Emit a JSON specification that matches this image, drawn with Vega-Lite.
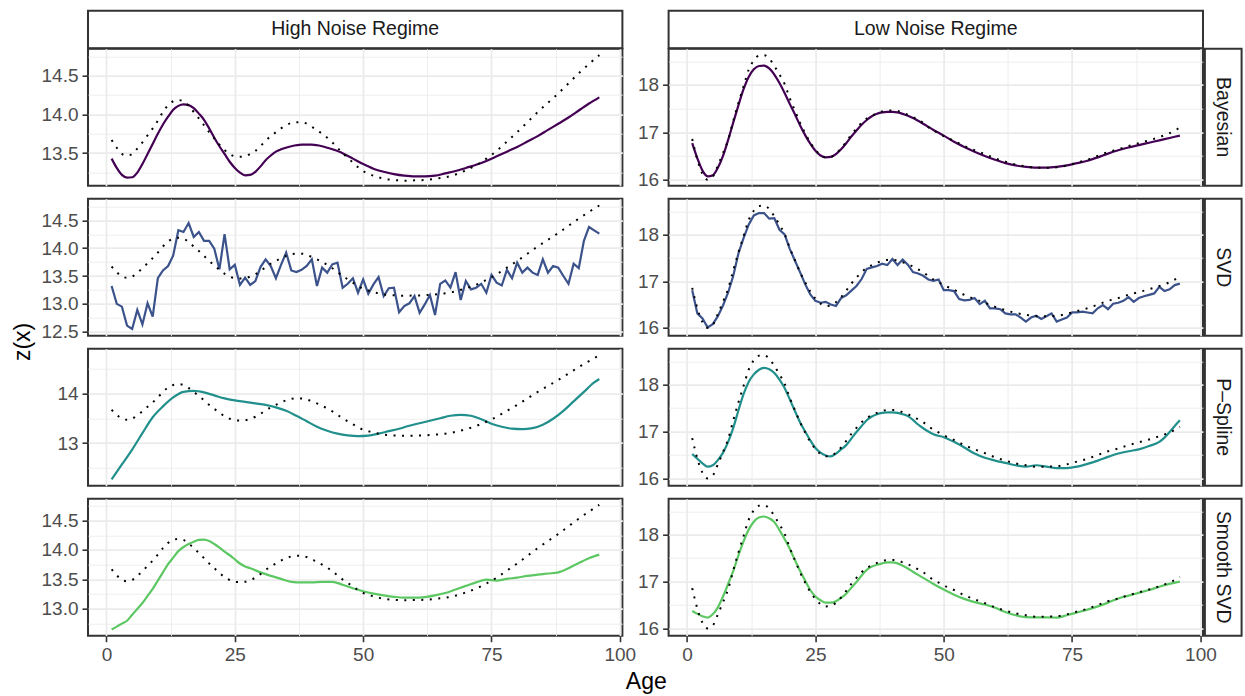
{
"$schema": "https://vega.github.io/schema/vega-lite/v6.json",
"padding": {"left": 10, "top": 9.7, "right": 3, "bottom": 4},
"config": {
  "font": "Liberation Sans",
  "view": {"stroke": "#333333", "strokeWidth": 2},
  "axis": {"grid": true, "gridColor": "#EBEBEB", "domain": false, "tickSize": 6, "tickWidth": 1.6, "labelFontSize": 19, "labelColor": "#4D4D4D", "labelPadding": 4, "labelOverlap": false, "labelFlush": false, "titleFontSize": 23, "titleFontWeight": "normal", "titleColor": "#000000"}
},
"datasets": {
  "empty": [],
  "truthHigh": [{"age":1,"z":13.67},{"age":2,"z":13.57},{"age":3,"z":13.49},{"age":4,"z":13.47},{"age":5,"z":13.49},{"age":6,"z":13.56},{"age":7,"z":13.64},{"age":8,"z":13.73},{"age":9,"z":13.82},{"age":10,"z":13.92},{"age":11,"z":14.03},{"age":12,"z":14.12},{"age":13,"z":14.17},{"age":14,"z":14.185},{"age":15,"z":14.17},{"age":16,"z":14.11},{"age":17,"z":14.03},{"age":18,"z":13.95},{"age":19,"z":13.86},{"age":20,"z":13.77},{"age":21,"z":13.69},{"age":22,"z":13.61},{"age":23,"z":13.54},{"age":24,"z":13.49},{"age":25,"z":13.46},{"age":26,"z":13.455},{"age":27,"z":13.46},{"age":28,"z":13.49},{"age":29,"z":13.53},{"age":30,"z":13.59},{"age":31,"z":13.66},{"age":32,"z":13.72},{"age":33,"z":13.77},{"age":34,"z":13.82},{"age":35,"z":13.86},{"age":36,"z":13.89},{"age":37,"z":13.9},{"age":38,"z":13.9},{"age":39,"z":13.88},{"age":40,"z":13.84},{"age":41,"z":13.8},{"age":42,"z":13.75},{"age":43,"z":13.7},{"age":44,"z":13.64},{"age":45,"z":13.57},{"age":46,"z":13.5},{"age":47,"z":13.44},{"age":48,"z":13.38},{"age":49,"z":13.32},{"age":50,"z":13.27},{"age":51,"z":13.24},{"age":52,"z":13.21},{"age":53,"z":13.19},{"age":54,"z":13.17},{"age":56,"z":13.155},{"age":58,"z":13.146},{"age":60,"z":13.15},{"age":62,"z":13.155},{"age":64,"z":13.17},{"age":66,"z":13.19},{"age":68,"z":13.225},{"age":70,"z":13.28},{"age":72,"z":13.345},{"age":74,"z":13.43},{"age":76,"z":13.53},{"age":78,"z":13.65},{"age":80,"z":13.77},{"age":82,"z":13.9},{"age":84,"z":14.03},{"age":86,"z":14.15},{"age":88,"z":14.27},{"age":90,"z":14.4},{"age":92,"z":14.53},{"age":94,"z":14.65},{"age":96,"z":14.765}],
  "truthLow": [{"age":1,"z":16.86},{"age":2,"z":16.42},{"age":3,"z":16.12},{"age":4,"z":16.0},{"age":5,"z":16.06},{"age":6,"z":16.3},{"age":7,"z":16.56},{"age":8,"z":16.84},{"age":9,"z":17.24},{"age":10,"z":17.62},{"age":11,"z":17.97},{"age":12,"z":18.32},{"age":13,"z":18.52},{"age":14,"z":18.62},{"age":15,"z":18.63},{"age":16,"z":18.56},{"age":17,"z":18.4},{"age":18,"z":18.22},{"age":19,"z":18.02},{"age":20,"z":17.72},{"age":21,"z":17.46},{"age":22,"z":17.2},{"age":23,"z":16.98},{"age":24,"z":16.78},{"age":25,"z":16.63},{"age":26,"z":16.52},{"age":27,"z":16.47},{"age":28,"z":16.48},{"age":29,"z":16.55},{"age":30,"z":16.66},{"age":31,"z":16.8},{"age":32,"z":16.95},{"age":33,"z":17.08},{"age":34,"z":17.2},{"age":35,"z":17.29},{"age":36,"z":17.35},{"age":37,"z":17.4},{"age":38,"z":17.44},{"age":39,"z":17.46},{"age":40,"z":17.46},{"age":41,"z":17.45},{"age":42,"z":17.41},{"age":43,"z":17.37},{"age":44,"z":17.32},{"age":45,"z":17.26},{"age":46,"z":17.2},{"age":47,"z":17.11},{"age":48,"z":17.04},{"age":49,"z":16.98},{"age":50,"z":16.92},{"age":52,"z":16.82},{"age":54,"z":16.71},{"age":56,"z":16.62},{"age":58,"z":16.54},{"age":60,"z":16.45},{"age":62,"z":16.38},{"age":64,"z":16.32},{"age":66,"z":16.28},{"age":68,"z":16.25},{"age":70,"z":16.25},{"age":72,"z":16.26},{"age":74,"z":16.3},{"age":76,"z":16.36},{"age":78,"z":16.42},{"age":80,"z":16.5},{"age":82,"z":16.58},{"age":84,"z":16.64},{"age":86,"z":16.71},{"age":88,"z":16.77},{"age":90,"z":16.83},{"age":92,"z":16.9},{"age":94,"z":16.98},{"age":96,"z":17.1}],
  "bayesHigh": [{"age":1,"z":13.43},{"age":2,"z":13.31},{"age":3,"z":13.22},{"age":4,"z":13.185},{"age":5,"z":13.19},{"age":6,"z":13.25},{"age":7,"z":13.36},{"age":8,"z":13.49},{"age":9,"z":13.62},{"age":10,"z":13.75},{"age":11,"z":13.87},{"age":12,"z":13.97},{"age":13,"z":14.06},{"age":14,"z":14.11},{"age":15,"z":14.13},{"age":16,"z":14.12},{"age":17,"z":14.08},{"age":18,"z":14.01},{"age":19,"z":13.93},{"age":20,"z":13.82},{"age":21,"z":13.7},{"age":22,"z":13.59},{"age":23,"z":13.49},{"age":24,"z":13.39},{"age":25,"z":13.31},{"age":26,"z":13.25},{"age":27,"z":13.215},{"age":28,"z":13.22},{"age":29,"z":13.26},{"age":30,"z":13.33},{"age":31,"z":13.41},{"age":32,"z":13.47},{"age":33,"z":13.52},{"age":34,"z":13.55},{"age":36,"z":13.59},{"age":38,"z":13.61},{"age":40,"z":13.61},{"age":42,"z":13.59},{"age":44,"z":13.55},{"age":46,"z":13.5},{"age":48,"z":13.43},{"age":50,"z":13.36},{"age":52,"z":13.3},{"age":54,"z":13.26},{"age":56,"z":13.23},{"age":58,"z":13.21},{"age":60,"z":13.2},{"age":62,"z":13.2},{"age":64,"z":13.21},{"age":66,"z":13.24},{"age":68,"z":13.27},{"age":70,"z":13.31},{"age":72,"z":13.35},{"age":74,"z":13.4},{"age":76,"z":13.46},{"age":78,"z":13.52},{"age":80,"z":13.58},{"age":82,"z":13.65},{"age":84,"z":13.72},{"age":86,"z":13.8},{"age":88,"z":13.88},{"age":90,"z":13.96},{"age":92,"z":14.05},{"age":94,"z":14.14},{"age":96,"z":14.22}],
  "bayesLow": [{"age":1,"z":16.77},{"age":2,"z":16.45},{"age":3,"z":16.19},{"age":4,"z":16.07},{"age":5,"z":16.09},{"age":6,"z":16.25},{"age":7,"z":16.5},{"age":8,"z":16.84},{"age":9,"z":17.21},{"age":10,"z":17.57},{"age":11,"z":17.91},{"age":12,"z":18.17},{"age":13,"z":18.33},{"age":14,"z":18.4},{"age":15,"z":18.41},{"age":16,"z":18.35},{"age":17,"z":18.22},{"age":18,"z":18.04},{"age":19,"z":17.83},{"age":20,"z":17.6},{"age":21,"z":17.38},{"age":22,"z":17.15},{"age":23,"z":16.94},{"age":24,"z":16.76},{"age":25,"z":16.61},{"age":26,"z":16.51},{"age":27,"z":16.47},{"age":28,"z":16.48},{"age":29,"z":16.54},{"age":30,"z":16.64},{"age":31,"z":16.77},{"age":32,"z":16.91},{"age":33,"z":17.04},{"age":34,"z":17.16},{"age":35,"z":17.26},{"age":36,"z":17.34},{"age":37,"z":17.39},{"age":38,"z":17.42},{"age":39,"z":17.43},{"age":40,"z":17.43},{"age":41,"z":17.42},{"age":42,"z":17.39},{"age":43,"z":17.35},{"age":44,"z":17.3},{"age":46,"z":17.18},{"age":48,"z":17.05},{"age":50,"z":16.93},{"age":52,"z":16.8},{"age":54,"z":16.69},{"age":56,"z":16.59},{"age":58,"z":16.5},{"age":60,"z":16.42},{"age":62,"z":16.35},{"age":64,"z":16.3},{"age":66,"z":16.27},{"age":68,"z":16.255},{"age":70,"z":16.255},{"age":72,"z":16.27},{"age":74,"z":16.3},{"age":76,"z":16.35},{"age":78,"z":16.4},{"age":80,"z":16.47},{"age":82,"z":16.55},{"age":84,"z":16.62},{"age":86,"z":16.68},{"age":88,"z":16.73},{"age":90,"z":16.78},{"age":92,"z":16.83},{"age":94,"z":16.88},{"age":96,"z":16.93}],
  "svdHigh": [{"age":1,"z":13.32},{"age":2,"z":13.0},{"age":3,"z":12.95},{"age":4,"z":12.61},{"age":5,"z":12.55},{"age":6,"z":12.89},{"age":7,"z":12.63},{"age":8,"z":13.01},{"age":9,"z":12.77},{"age":10,"z":13.46},{"age":11,"z":13.6},{"age":12,"z":13.68},{"age":13,"z":13.87},{"age":14,"z":14.32},{"age":15,"z":14.29},{"age":16,"z":14.45},{"age":17,"z":14.2},{"age":18,"z":14.29},{"age":19,"z":14.13},{"age":20,"z":14.13},{"age":21,"z":13.99},{"age":22,"z":13.62},{"age":23,"z":14.25},{"age":24,"z":13.62},{"age":25,"z":13.7},{"age":26,"z":13.34},{"age":27,"z":13.47},{"age":28,"z":13.34},{"age":29,"z":13.41},{"age":30,"z":13.66},{"age":31,"z":13.8},{"age":32,"z":13.68},{"age":33,"z":13.46},{"age":34,"z":13.7},{"age":35,"z":13.92},{"age":36,"z":13.6},{"age":37,"z":13.57},{"age":38,"z":13.61},{"age":39,"z":13.68},{"age":40,"z":13.8},{"age":41,"z":13.32},{"age":42,"z":13.65},{"age":43,"z":13.56},{"age":44,"z":13.71},{"age":45,"z":13.74},{"age":46,"z":13.29},{"age":47,"z":13.36},{"age":48,"z":13.46},{"age":49,"z":13.2},{"age":50,"z":13.44},{"age":51,"z":13.18},{"age":52,"z":13.35},{"age":53,"z":13.48},{"age":54,"z":13.14},{"age":55,"z":13.28},{"age":56,"z":13.29},{"age":57,"z":12.85},{"age":58,"z":12.96},{"age":59,"z":13.01},{"age":60,"z":13.14},{"age":61,"z":12.84},{"age":62,"z":12.99},{"age":63,"z":13.16},{"age":64,"z":12.8},{"age":65,"z":13.36},{"age":66,"z":13.42},{"age":67,"z":13.29},{"age":68,"z":13.57},{"age":69,"z":13.07},{"age":70,"z":13.41},{"age":71,"z":13.26},{"age":72,"z":13.29},{"age":73,"z":13.36},{"age":74,"z":13.2},{"age":75,"z":13.52},{"age":76,"z":13.38},{"age":77,"z":13.33},{"age":78,"z":13.61},{"age":79,"z":13.46},{"age":80,"z":13.74},{"age":81,"z":13.56},{"age":82,"z":13.65},{"age":83,"z":13.56},{"age":84,"z":13.52},{"age":85,"z":13.8},{"age":86,"z":13.56},{"age":87,"z":13.68},{"age":88,"z":13.65},{"age":89,"z":13.5},{"age":90,"z":13.36},{"age":91,"z":13.72},{"age":92,"z":13.64},{"age":93,"z":14.13},{"age":94,"z":14.38},{"age":95,"z":14.32},{"age":96,"z":14.26}],
  "svdLow": [{"age":1,"z":16.81},{"age":2,"z":16.31},{"age":3,"z":16.2},{"age":4,"z":16.01},{"age":5,"z":16.08},{"age":6,"z":16.25},{"age":7,"z":16.48},{"age":8,"z":16.76},{"age":9,"z":17.12},{"age":10,"z":17.6},{"age":11,"z":17.93},{"age":12,"z":18.22},{"age":13,"z":18.42},{"age":14,"z":18.47},{"age":15,"z":18.47},{"age":16,"z":18.35},{"age":17,"z":18.36},{"age":18,"z":18.11},{"age":19,"z":18.01},{"age":20,"z":17.7},{"age":21,"z":17.45},{"age":22,"z":17.2},{"age":23,"z":16.94},{"age":24,"z":16.72},{"age":25,"z":16.58},{"age":26,"z":16.54},{"age":27,"z":16.56},{"age":28,"z":16.5},{"age":29,"z":16.47},{"age":30,"z":16.64},{"age":31,"z":16.7},{"age":32,"z":16.8},{"age":33,"z":16.9},{"age":34,"z":17.05},{"age":35,"z":17.27},{"age":36,"z":17.3},{"age":37,"z":17.33},{"age":38,"z":17.38},{"age":39,"z":17.35},{"age":40,"z":17.48},{"age":41,"z":17.35},{"age":42,"z":17.47},{"age":43,"z":17.36},{"age":44,"z":17.2},{"age":45,"z":17.17},{"age":46,"z":17.12},{"age":47,"z":17.04},{"age":48,"z":17.01},{"age":49,"z":17.04},{"age":50,"z":16.81},{"age":51,"z":16.81},{"age":52,"z":16.79},{"age":53,"z":16.62},{"age":54,"z":16.59},{"age":55,"z":16.6},{"age":56,"z":16.64},{"age":57,"z":16.51},{"age":58,"z":16.58},{"age":59,"z":16.42},{"age":60,"z":16.42},{"age":61,"z":16.4},{"age":62,"z":16.31},{"age":63,"z":16.29},{"age":64,"z":16.29},{"age":65,"z":16.22},{"age":66,"z":16.135},{"age":67,"z":16.22},{"age":68,"z":16.26},{"age":69,"z":16.19},{"age":70,"z":16.25},{"age":71,"z":16.31},{"age":72,"z":16.135},{"age":73,"z":16.18},{"age":74,"z":16.22},{"age":75,"z":16.33},{"age":76,"z":16.33},{"age":77,"z":16.35},{"age":78,"z":16.33},{"age":79,"z":16.31},{"age":80,"z":16.42},{"age":81,"z":16.49},{"age":82,"z":16.4},{"age":83,"z":16.52},{"age":84,"z":16.54},{"age":85,"z":16.58},{"age":86,"z":16.66},{"age":87,"z":16.56},{"age":88,"z":16.64},{"age":89,"z":16.68},{"age":90,"z":16.71},{"age":91,"z":16.74},{"age":92,"z":16.88},{"age":93,"z":16.79},{"age":94,"z":16.83},{"age":95,"z":16.92},{"age":96,"z":16.95}],
  "psHigh": [{"age":1,"z":12.27},{"age":3,"z":12.57},{"age":5,"z":12.87},{"age":7,"z":13.2},{"age":9,"z":13.52},{"age":11,"z":13.74},{"age":13,"z":13.92},{"age":15,"z":14.03},{"age":17,"z":14.05},{"age":19,"z":14.02},{"age":21,"z":13.96},{"age":23,"z":13.9},{"age":25,"z":13.86},{"age":27,"z":13.83},{"age":29,"z":13.8},{"age":31,"z":13.77},{"age":33,"z":13.72},{"age":35,"z":13.65},{"age":37,"z":13.55},{"age":39,"z":13.44},{"age":41,"z":13.33},{"age":43,"z":13.25},{"age":45,"z":13.19},{"age":47,"z":13.155},{"age":49,"z":13.14},{"age":51,"z":13.15},{"age":53,"z":13.19},{"age":55,"z":13.24},{"age":57,"z":13.29},{"age":59,"z":13.35},{"age":61,"z":13.4},{"age":63,"z":13.45},{"age":65,"z":13.5},{"age":67,"z":13.55},{"age":69,"z":13.57},{"age":71,"z":13.55},{"age":73,"z":13.48},{"age":75,"z":13.39},{"age":77,"z":13.33},{"age":79,"z":13.29},{"age":81,"z":13.28},{"age":83,"z":13.3},{"age":85,"z":13.37},{"age":87,"z":13.49},{"age":89,"z":13.65},{"age":91,"z":13.84},{"age":93,"z":14.03},{"age":95,"z":14.22},{"age":96,"z":14.29}],
  "psLow": [{"age":1,"z":16.52},{"age":2,"z":16.42},{"age":3,"z":16.32},{"age":4,"z":16.25},{"age":5,"z":16.28},{"age":6,"z":16.39},{"age":7,"z":16.55},{"age":8,"z":16.78},{"age":9,"z":17.08},{"age":10,"z":17.45},{"age":11,"z":17.8},{"age":12,"z":18.06},{"age":13,"z":18.22},{"age":14,"z":18.32},{"age":15,"z":18.36},{"age":16,"z":18.33},{"age":17,"z":18.25},{"age":18,"z":18.11},{"age":19,"z":17.93},{"age":20,"z":17.69},{"age":21,"z":17.44},{"age":22,"z":17.2},{"age":23,"z":17.0},{"age":24,"z":16.81},{"age":25,"z":16.65},{"age":26,"z":16.55},{"age":27,"z":16.49},{"age":28,"z":16.47},{"age":29,"z":16.53},{"age":30,"z":16.62},{"age":31,"z":16.71},{"age":32,"z":16.85},{"age":33,"z":16.99},{"age":34,"z":17.12},{"age":35,"z":17.24},{"age":36,"z":17.32},{"age":37,"z":17.37},{"age":38,"z":17.4},{"age":39,"z":17.41},{"age":40,"z":17.41},{"age":41,"z":17.4},{"age":42,"z":17.37},{"age":43,"z":17.33},{"age":44,"z":17.25},{"age":45,"z":17.15},{"age":46,"z":17.07},{"age":47,"z":17.0},{"age":48,"z":16.94},{"age":50,"z":16.88},{"age":52,"z":16.78},{"age":54,"z":16.66},{"age":56,"z":16.53},{"age":58,"z":16.44},{"age":60,"z":16.38},{"age":62,"z":16.33},{"age":64,"z":16.28},{"age":66,"z":16.25},{"age":68,"z":16.28},{"age":70,"z":16.25},{"age":72,"z":16.22},{"age":74,"z":16.22},{"age":76,"z":16.25},{"age":78,"z":16.31},{"age":80,"z":16.38},{"age":82,"z":16.46},{"age":84,"z":16.53},{"age":86,"z":16.58},{"age":88,"z":16.62},{"age":90,"z":16.69},{"age":92,"z":16.78},{"age":93,"z":16.87},{"age":94,"z":16.99},{"age":95,"z":17.12},{"age":96,"z":17.24}],
  "ssHigh": [{"age":1,"z":12.65},{"age":2,"z":12.7},{"age":3,"z":12.75},{"age":4,"z":12.8},{"age":5,"z":12.9},{"age":6,"z":13.0},{"age":7,"z":13.1},{"age":8,"z":13.22},{"age":9,"z":13.34},{"age":10,"z":13.48},{"age":11,"z":13.62},{"age":12,"z":13.76},{"age":13,"z":13.87},{"age":14,"z":13.98},{"age":15,"z":14.05},{"age":16,"z":14.1},{"age":17,"z":14.14},{"age":18,"z":14.17},{"age":19,"z":14.175},{"age":20,"z":14.15},{"age":21,"z":14.1},{"age":22,"z":14.04},{"age":23,"z":13.97},{"age":24,"z":13.91},{"age":25,"z":13.84},{"age":26,"z":13.77},{"age":27,"z":13.72},{"age":28,"z":13.69},{"age":30,"z":13.62},{"age":32,"z":13.56},{"age":34,"z":13.51},{"age":36,"z":13.46},{"age":38,"z":13.45},{"age":40,"z":13.45},{"age":42,"z":13.46},{"age":44,"z":13.46},{"age":46,"z":13.41},{"age":48,"z":13.35},{"age":50,"z":13.3},{"age":52,"z":13.26},{"age":54,"z":13.23},{"age":56,"z":13.205},{"age":58,"z":13.19},{"age":60,"z":13.19},{"age":62,"z":13.2},{"age":64,"z":13.23},{"age":66,"z":13.27},{"age":68,"z":13.33},{"age":70,"z":13.39},{"age":72,"z":13.45},{"age":74,"z":13.495},{"age":76,"z":13.48},{"age":78,"z":13.51},{"age":80,"z":13.53},{"age":82,"z":13.56},{"age":84,"z":13.58},{"age":86,"z":13.6},{"age":88,"z":13.62},{"age":90,"z":13.69},{"age":92,"z":13.78},{"age":94,"z":13.86},{"age":96,"z":13.92}],
  "ssLow": [{"age":1,"z":16.37},{"age":2,"z":16.31},{"age":3,"z":16.26},{"age":4,"z":16.23},{"age":5,"z":16.3},{"age":6,"z":16.45},{"age":7,"z":16.68},{"age":8,"z":16.95},{"age":9,"z":17.23},{"age":10,"z":17.56},{"age":11,"z":17.86},{"age":12,"z":18.11},{"age":13,"z":18.28},{"age":14,"z":18.37},{"age":15,"z":18.39},{"age":16,"z":18.35},{"age":17,"z":18.27},{"age":18,"z":18.1},{"age":19,"z":17.91},{"age":20,"z":17.7},{"age":21,"z":17.46},{"age":22,"z":17.23},{"age":23,"z":17.02},{"age":24,"z":16.82},{"age":25,"z":16.68},{"age":26,"z":16.6},{"age":27,"z":16.55},{"age":28,"z":16.55},{"age":29,"z":16.58},{"age":30,"z":16.65},{"age":31,"z":16.74},{"age":32,"z":16.87},{"age":33,"z":16.99},{"age":34,"z":17.13},{"age":35,"z":17.25},{"age":36,"z":17.32},{"age":37,"z":17.36},{"age":38,"z":17.39},{"age":39,"z":17.41},{"age":40,"z":17.41},{"age":41,"z":17.39},{"age":42,"z":17.34},{"age":43,"z":17.28},{"age":44,"z":17.21},{"age":46,"z":17.08},{"age":48,"z":16.95},{"age":50,"z":16.83},{"age":52,"z":16.72},{"age":54,"z":16.63},{"age":56,"z":16.56},{"age":58,"z":16.51},{"age":60,"z":16.44},{"age":62,"z":16.35},{"age":64,"z":16.28},{"age":66,"z":16.24},{"age":68,"z":16.235},{"age":70,"z":16.235},{"age":72,"z":16.23},{"age":74,"z":16.28},{"age":76,"z":16.34},{"age":78,"z":16.4},{"age":80,"z":16.47},{"age":82,"z":16.55},{"age":84,"z":16.64},{"age":86,"z":16.7},{"age":88,"z":16.76},{"age":90,"z":16.82},{"age":92,"z":16.89},{"age":94,"z":16.95},{"age":96,"z":17.0}]
},
"columns": 4,
"spacing": {"row": 0, "column": 1.3},
"bounds": "flush",
"align": "each",
"concat": [
  {"width": 534.4, "height": 37.6, "view": {"stroke": "#333333", "strokeWidth": 2, "fill": "#FFFFFF"}, "data": {"values": [{"label": "High Noise Regime"}]}, "mark": {"type": "text", "fontSize": 19.5, "color": "#1A1A1A"}, "encoding": {"text": {"field": "label"}}},
  {"width": 43, "height": 1, "data": {"name": "empty"}, "mark": {"type": "point", "opacity": 0}, "view": {"stroke": null}},
  {"width": 534.4, "height": 37.6, "view": {"stroke": "#333333", "strokeWidth": 2, "fill": "#FFFFFF"}, "data": {"values": [{"label": "Low Noise Regime"}]}, "mark": {"type": "text", "fontSize": 19.5, "color": "#1A1A1A"}, "encoding": {"text": {"field": "label"}}},
  {"width": 36.7, "height": 1, "data": {"name": "empty"}, "mark": {"type": "point", "opacity": 0}, "view": {"stroke": null}},

  {"width": 534.4, "height": 137,
   "encoding": {
     "x": {"field": "age", "type": "quantitative", "scale": {"domain": [-3.6, 100.5], "nice": false, "zero": false}, "axis": {"values": [0,12.5,25,37.5,50,62.5,75,87.5,100], "labels": false, "ticks": false, "title": null, "gridWidth": {"condition": {"test": "datum.value % 25 === 0", "value": 1.7}, "value": 0.85}}},
     "y": {"field": "z", "type": "quantitative", "scale": {"domain": [13.081, 14.847], "nice": false, "zero": false}, "axis": {"values": [13.25,13.5,13.75,14,14.25,14.5,14.75], "labelExpr": "datum.value % 0.5 === 0 ? format(datum.value, '.1f') : ''", "tickColor": {"condition": {"test": "datum.value % 0.5 === 0", "value": "#333333"}, "value": "rgba(0,0,0,0)"}, "gridWidth": {"condition": {"test": "datum.value % 0.5 === 0", "value": 1.7}, "value": 0.85}, "title": null}}
   },
   "layer": [
     {"data": {"name": "bayesHigh"}, "mark": {"type": "line", "color": "#440154", "strokeWidth": 2.2, "interpolate": "monotone"}},
     {"data": {"name": "truthHigh"}, "mark": {"type": "line", "color": "#000000", "strokeWidth": 2, "strokeDash": [2, 6.5], "interpolate": "monotone"}}
   ]},
  {"width": 43, "height": 1, "data": {"name": "empty"}, "mark": {"type": "point", "opacity": 0}, "view": {"stroke": null}},
  {"width": 534.4, "height": 137,
   "encoding": {
     "x": {"field": "age", "type": "quantitative", "scale": {"domain": [-3.6, 100.5], "nice": false, "zero": false}, "axis": {"values": [0,12.5,25,37.5,50,62.5,75,87.5,100], "labels": false, "ticks": false, "title": null, "gridWidth": {"condition": {"test": "datum.value % 25 === 0", "value": 1.7}, "value": 0.85}}},
     "y": {"field": "z", "type": "quantitative", "scale": {"domain": [15.872, 18.766], "nice": false, "zero": false}, "axis": {"values": [16,16.5,17,17.5,18,18.5], "labelExpr": "datum.value % 1 === 0 ? format(datum.value, 'd') : ''", "tickColor": {"condition": {"test": "datum.value % 1 === 0", "value": "#333333"}, "value": "rgba(0,0,0,0)"}, "gridWidth": {"condition": {"test": "datum.value % 1 === 0", "value": 1.7}, "value": 0.85}, "title": null}}
   },
   "layer": [
     {"data": {"name": "bayesLow"}, "mark": {"type": "line", "color": "#440154", "strokeWidth": 2.2, "interpolate": "monotone"}},
     {"data": {"name": "truthLow"}, "mark": {"type": "line", "color": "#000000", "strokeWidth": 2, "strokeDash": [2, 6.5], "interpolate": "monotone"}}
   ]},
  {"width": 36.7, "height": 137, "view": {"stroke": "#333333", "strokeWidth": 2, "fill": "#FFFFFF"}, "data": {"values": [{"label": "Bayesian"}]}, "mark": {"type": "text", "fontSize": 19.5, "color": "#1A1A1A", "angle": 90}, "encoding": {"text": {"field": "label"}}},

  {"width": 1, "height": 12.67, "data": {"name": "empty"}, "mark": {"type": "point", "opacity": 0}, "view": {"stroke": null}},
  {"width": 1, "height": 12.67, "data": {"name": "empty"}, "mark": {"type": "point", "opacity": 0}, "view": {"stroke": null}},
  {"width": 1, "height": 12.67, "data": {"name": "empty"}, "mark": {"type": "point", "opacity": 0}, "view": {"stroke": null}},
  {"width": 1, "height": 12.67, "data": {"name": "empty"}, "mark": {"type": "point", "opacity": 0}, "view": {"stroke": null}},

  {"width": 534.4, "height": 137,
   "encoding": {
     "x": {"field": "age", "type": "quantitative", "scale": {"domain": [-3.6, 100.5], "nice": false, "zero": false}, "axis": {"values": [0,12.5,25,37.5,50,62.5,75,87.5,100], "labels": false, "ticks": false, "title": null, "gridWidth": {"condition": {"test": "datum.value % 25 === 0", "value": 1.7}, "value": 0.85}}},
     "y": {"field": "z", "type": "quantitative", "scale": {"domain": [12.429, 14.887], "nice": false, "zero": false}, "axis": {"values": [12.5,12.75,13,13.25,13.5,13.75,14,14.25,14.5,14.75], "labelExpr": "datum.value % 0.5 === 0 ? format(datum.value, '.1f') : ''", "tickColor": {"condition": {"test": "datum.value % 0.5 === 0", "value": "#333333"}, "value": "rgba(0,0,0,0)"}, "gridWidth": {"condition": {"test": "datum.value % 0.5 === 0", "value": 1.7}, "value": 0.85}, "title": "z(x)", "titleX": -59, "titleY": 142.7, "titleAngle": 270, "titleAlign": "center", "titleBaseline": "alphabetic"}}
   },
   "layer": [
     {"data": {"name": "svdHigh"}, "mark": {"type": "line", "color": "#3B528B", "strokeWidth": 2.2}},
     {"data": {"name": "truthHigh"}, "mark": {"type": "line", "color": "#000000", "strokeWidth": 2, "strokeDash": [2, 6.5], "interpolate": "monotone"}}
   ]},
  {"width": 43, "height": 1, "data": {"name": "empty"}, "mark": {"type": "point", "opacity": 0}, "view": {"stroke": null}},
  {"width": 534.4, "height": 137,
   "encoding": {
     "x": {"field": "age", "type": "quantitative", "scale": {"domain": [-3.6, 100.5], "nice": false, "zero": false}, "axis": {"values": [0,12.5,25,37.5,50,62.5,75,87.5,100], "labels": false, "ticks": false, "title": null, "gridWidth": {"condition": {"test": "datum.value % 25 === 0", "value": 1.7}, "value": 0.85}}},
     "y": {"field": "z", "type": "quantitative", "scale": {"domain": [15.83, 18.78], "nice": false, "zero": false}, "axis": {"values": [16,16.5,17,17.5,18,18.5], "labelExpr": "datum.value % 1 === 0 ? format(datum.value, 'd') : ''", "tickColor": {"condition": {"test": "datum.value % 1 === 0", "value": "#333333"}, "value": "rgba(0,0,0,0)"}, "gridWidth": {"condition": {"test": "datum.value % 1 === 0", "value": 1.7}, "value": 0.85}, "title": null}}
   },
   "layer": [
     {"data": {"name": "svdLow"}, "mark": {"type": "line", "color": "#3B528B", "strokeWidth": 2.2}},
     {"data": {"name": "truthLow"}, "mark": {"type": "line", "color": "#000000", "strokeWidth": 2, "strokeDash": [2, 6.5], "interpolate": "monotone"}}
   ]},
  {"width": 36.7, "height": 137, "view": {"stroke": "#333333", "strokeWidth": 2, "fill": "#FFFFFF"}, "data": {"values": [{"label": "SVD"}]}, "mark": {"type": "text", "fontSize": 19.5, "color": "#1A1A1A", "angle": 90}, "encoding": {"text": {"field": "label"}}},

  {"width": 1, "height": 12.67, "data": {"name": "empty"}, "mark": {"type": "point", "opacity": 0}, "view": {"stroke": null}},
  {"width": 1, "height": 12.67, "data": {"name": "empty"}, "mark": {"type": "point", "opacity": 0}, "view": {"stroke": null}},
  {"width": 1, "height": 12.67, "data": {"name": "empty"}, "mark": {"type": "point", "opacity": 0}, "view": {"stroke": null}},
  {"width": 1, "height": 12.67, "data": {"name": "empty"}, "mark": {"type": "point", "opacity": 0}, "view": {"stroke": null}},

  {"width": 534.4, "height": 137,
   "encoding": {
     "x": {"field": "age", "type": "quantitative", "scale": {"domain": [-3.6, 100.5], "nice": false, "zero": false}, "axis": {"values": [0,12.5,25,37.5,50,62.5,75,87.5,100], "labels": false, "ticks": false, "title": null, "gridWidth": {"condition": {"test": "datum.value % 25 === 0", "value": 1.7}, "value": 0.85}}},
     "y": {"field": "z", "type": "quantitative", "scale": {"domain": [12.143, 14.9], "nice": false, "zero": false}, "axis": {"values": [12.5,13,13.5,14,14.5], "labelExpr": "datum.value % 1 === 0 ? format(datum.value, 'd') : ''", "tickColor": {"condition": {"test": "datum.value % 1 === 0", "value": "#333333"}, "value": "rgba(0,0,0,0)"}, "gridWidth": {"condition": {"test": "datum.value % 1 === 0", "value": 1.7}, "value": 0.85}, "title": null}}
   },
   "layer": [
     {"data": {"name": "psHigh"}, "mark": {"type": "line", "color": "#21908C", "strokeWidth": 2.2, "interpolate": "monotone"}},
     {"data": {"name": "truthHigh"}, "mark": {"type": "line", "color": "#000000", "strokeWidth": 2, "strokeDash": [2, 6.5], "interpolate": "monotone"}}
   ]},
  {"width": 43, "height": 1, "data": {"name": "empty"}, "mark": {"type": "point", "opacity": 0}, "view": {"stroke": null}},
  {"width": 534.4, "height": 137,
   "encoding": {
     "x": {"field": "age", "type": "quantitative", "scale": {"domain": [-3.6, 100.5], "nice": false, "zero": false}, "axis": {"values": [0,12.5,25,37.5,50,62.5,75,87.5,100], "labels": false, "ticks": false, "title": null, "gridWidth": {"condition": {"test": "datum.value % 25 === 0", "value": 1.7}, "value": 0.85}}},
     "y": {"field": "z", "type": "quantitative", "scale": {"domain": [15.844, 18.769], "nice": false, "zero": false}, "axis": {"values": [16,16.5,17,17.5,18,18.5], "labelExpr": "datum.value % 1 === 0 ? format(datum.value, 'd') : ''", "tickColor": {"condition": {"test": "datum.value % 1 === 0", "value": "#333333"}, "value": "rgba(0,0,0,0)"}, "gridWidth": {"condition": {"test": "datum.value % 1 === 0", "value": 1.7}, "value": 0.85}, "title": null}}
   },
   "layer": [
     {"data": {"name": "psLow"}, "mark": {"type": "line", "color": "#21908C", "strokeWidth": 2.2, "interpolate": "monotone"}},
     {"data": {"name": "truthLow"}, "mark": {"type": "line", "color": "#000000", "strokeWidth": 2, "strokeDash": [2, 6.5], "interpolate": "monotone"}}
   ]},
  {"width": 36.7, "height": 137, "view": {"stroke": "#333333", "strokeWidth": 2, "fill": "#FFFFFF"}, "data": {"values": [{"label": "P–Spline"}]}, "mark": {"type": "text", "fontSize": 19.5, "color": "#1A1A1A", "angle": 90}, "encoding": {"text": {"field": "label"}}},

  {"width": 1, "height": 12.67, "data": {"name": "empty"}, "mark": {"type": "point", "opacity": 0}, "view": {"stroke": null}},
  {"width": 1, "height": 12.67, "data": {"name": "empty"}, "mark": {"type": "point", "opacity": 0}, "view": {"stroke": null}},
  {"width": 1, "height": 12.67, "data": {"name": "empty"}, "mark": {"type": "point", "opacity": 0}, "view": {"stroke": null}},
  {"width": 1, "height": 12.67, "data": {"name": "empty"}, "mark": {"type": "point", "opacity": 0}, "view": {"stroke": null}},

  {"width": 534.4, "height": 137,
   "encoding": {
     "x": {"field": "age", "type": "quantitative", "scale": {"domain": [-3.6, 100.5], "nice": false, "zero": false}, "axis": {"values": [0,12.5,25,37.5,50,62.5,75,87.5,100], "labelExpr": "datum.value % 25 === 0 ? format(datum.value, 'd') : ''", "tickColor": {"condition": {"test": "datum.value % 25 === 0", "value": "#333333"}, "value": "rgba(0,0,0,0)"}, "labelPadding": 4, "title": null, "gridWidth": {"condition": {"test": "datum.value % 25 === 0", "value": 1.7}, "value": 0.85}}},
     "y": {"field": "z", "type": "quantitative", "scale": {"domain": [12.546, 14.869], "nice": false, "zero": false}, "axis": {"values": [12.75,13,13.25,13.5,13.75,14,14.25,14.5,14.75], "labelExpr": "datum.value % 0.5 === 0 ? format(datum.value, '.1f') : ''", "tickColor": {"condition": {"test": "datum.value % 0.5 === 0", "value": "#333333"}, "value": "rgba(0,0,0,0)"}, "gridWidth": {"condition": {"test": "datum.value % 0.5 === 0", "value": 1.7}, "value": 0.85}, "title": null}}
   },
   "layer": [
     {"data": {"name": "ssHigh"}, "mark": {"type": "line", "color": "#5DC863", "strokeWidth": 2.2, "interpolate": "monotone"}},
     {"data": {"name": "truthHigh"}, "mark": {"type": "line", "color": "#000000", "strokeWidth": 2, "strokeDash": [2, 6.5], "interpolate": "monotone"}}
   ]},
  {"width": 43, "height": 1, "data": {"name": "empty"}, "mark": {"type": "point", "opacity": 0}, "view": {"stroke": null}},
  {"width": 534.4, "height": 137,
   "encoding": {
     "x": {"field": "age", "type": "quantitative", "scale": {"domain": [-3.6, 100.5], "nice": false, "zero": false}, "axis": {"values": [0,12.5,25,37.5,50,62.5,75,87.5,100], "labelExpr": "datum.value % 25 === 0 ? format(datum.value, 'd') : ''", "tickColor": {"condition": {"test": "datum.value % 25 === 0", "value": "#333333"}, "value": "rgba(0,0,0,0)"}, "labelPadding": 4, "title": "Age", "titleX": -22.8, "titleY": 52.4, "titleAlign": "center", "titleBaseline": "alphabetic", "gridWidth": {"condition": {"test": "datum.value % 25 === 0", "value": 1.7}, "value": 0.85}}},
     "y": {"field": "z", "type": "quantitative", "scale": {"domain": [15.844, 18.771], "nice": false, "zero": false}, "axis": {"values": [16,16.5,17,17.5,18,18.5], "labelExpr": "datum.value % 1 === 0 ? format(datum.value, 'd') : ''", "tickColor": {"condition": {"test": "datum.value % 1 === 0", "value": "#333333"}, "value": "rgba(0,0,0,0)"}, "gridWidth": {"condition": {"test": "datum.value % 1 === 0", "value": 1.7}, "value": 0.85}, "title": null}}
   },
   "layer": [
     {"data": {"name": "ssLow"}, "mark": {"type": "line", "color": "#5DC863", "strokeWidth": 2.2, "interpolate": "monotone"}},
     {"data": {"name": "truthLow"}, "mark": {"type": "line", "color": "#000000", "strokeWidth": 2, "strokeDash": [2, 6.5], "interpolate": "monotone"}}
   ]},
  {"width": 36.7, "height": 137, "view": {"stroke": "#333333", "strokeWidth": 2, "fill": "#FFFFFF"}, "data": {"values": [{"label": "Smooth SVD"}]}, "mark": {"type": "text", "fontSize": 19.5, "color": "#1A1A1A", "angle": 90}, "encoding": {"text": {"field": "label"}}}
]
}
